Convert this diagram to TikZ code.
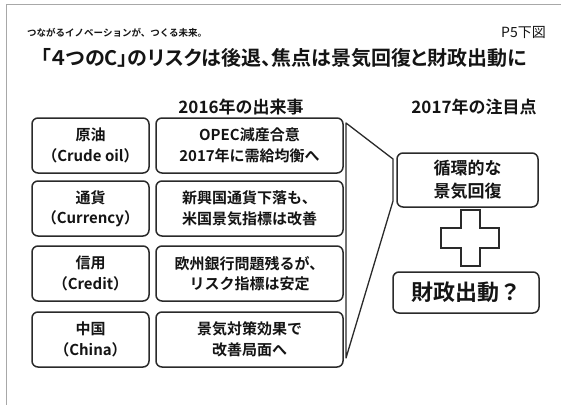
\documentclass[tikz,border=0pt]{standalone}
\usepackage{fontspec}
\usetikzlibrary{calc}
\setmainfont{Noto Sans CJK JP}
\newfontfamily\jpb{Noto Sans CJK JP Bold}
\newfontfamily\titlefont{Noto Sans CJK JP Bold}[RawFeature=+palt]
\definecolor{ink}{HTML}{141414}
\definecolor{edge}{HTML}{2A2A2A}
\definecolor{frame}{HTML}{A8A8A8}
\begin{document}
\begin{tikzpicture}[x=1pt,y=-1pt,
  box/.style={draw=edge, line width=1.5pt, rounded corners=6pt, align=center,
    inner sep=0pt, text=ink, font=\jpb\fontsize{15}{20.5}\selectfont},
  leftbox/.style={box, minimum width=117pt, minimum height=55pt},
  midbox/.style={box, minimum width=187pt, minimum height=55pt},
  head/.style={text=ink, font=\jpb\fontsize{17}{19}\selectfont, inner sep=0pt},
  bracket/.style={draw=edge, line width=1.3pt, line join=round}]
\useasboundingbox (0,0) rectangle (561,404);
\fill[white] (0,0) rectangle (561,404);
\draw[frame, line width=1pt] (6,420) -- (6,5) -- (575,5);

\node[inner sep=0pt, text=ink, anchor=west, font=\jpb\fontsize{9.5}{11}\selectfont] (tag) at (27,33) {つながるイノベーションが、つくる未来。};
\node[inner sep=0pt, text=ink, anchor=east, font=\fontsize{14}{16}\selectfont] (page) at (546,33) {P5下図};
\node[inner sep=0pt, text=ink, font=\titlefont\fontsize{20}{22}\selectfont] (title) at (284,58) {「４つのC」のリスクは後退、焦点は景気回復と財政出動に};

\node[head] (h1) at (241,107) {2016年の出来事};
\node[head] (h2) at (474,107) {2017年の注目点};

\node[leftbox] (l1) at (90.5,145.5) {原油\\（Crude oil）};
\node[leftbox] (l2) at (90.5,208.5) {通貨\\（Currency）};
\node[leftbox] (l3) at (90.5,273.5) {信用\\（Credit）};
\node[leftbox] (l4) at (90.5,339.5) {中国\\（China）};

\node[midbox] (m1) at (249.5,145.5) {OPEC減産合意\\2017年に需給均衡へ};
\node[midbox] (m2) at (249.5,208.5) {新興国通貨下落も、\\米国景気指標は改善};
\node[midbox] (m3) at (249.5,273.5) {欧州銀行問題残るが、\\リスク指標は安定};
\node[midbox] (m4) at (249.5,339.5) {景気対策効果で\\改善局面へ};

\node[box, minimum width=141pt, minimum height=54pt, font=\jpb\fontsize{17}{23}\selectfont] (r1) at (467.5,180) {循環的な\\景気回復};
\node[box, minimum width=146pt, minimum height=41pt, font=\jpb\fontsize{22}{24}\selectfont] (r2) at (466,292.5) {財政出動？};

\coordinate (bt) at (346,123);
\coordinate (bb) at (346,358);
\coordinate (rt) at (393,159);
\coordinate (rb) at (393,201);
\draw[bracket] (rt) -- (bt) -- (bb) -- (rb) -- cycle;

\coordinate (pc) at (470,238);
\draw[edge, line width=2pt, fill=white, line join=miter]
  ($(pc)+(-9.5,-28)$) -- ($(pc)+(9.5,-28)$) -- ($(pc)+(9.5,-10)$) -- ($(pc)+(29,-10)$)
  -- ($(pc)+(29,10)$) -- ($(pc)+(9.5,10)$) -- ($(pc)+(9.5,28)$) -- ($(pc)+(-9.5,28)$)
  -- ($(pc)+(-9.5,10)$) -- ($(pc)+(-29,10)$) -- ($(pc)+(-29,-10)$) -- ($(pc)+(-9.5,-10)$) -- cycle;
\end{tikzpicture}
\end{document}
